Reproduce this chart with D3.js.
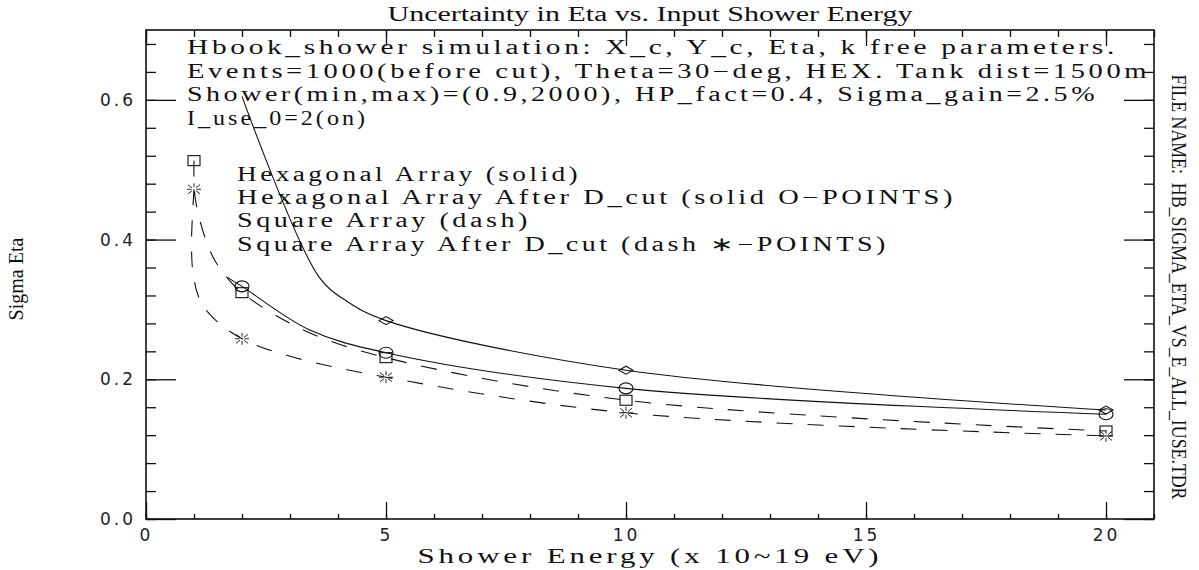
<!DOCTYPE html>
<html>
<head>
<meta charset="utf-8">
<script src="https://cdn.jsdelivr.net/npm/d3@7"></script>
<style>
  body { margin: 0; background: #fff; }
  svg { display: block; }
  .hdr { font-family: "Liberation Serif", serif; font-size: 20px; letter-spacing: 2.5px; fill: #111; }
  .tick text { font-family: "DejaVu Sans", sans-serif; font-size: 17px; fill: #222; }
</style>
</head>
<body>
<svg width="1199" height="570"></svg>
<script>
// marker values
const hexX = [5, 10, 20];
const hexY = [0.284, 0.213, 0.156];
const hexCutX = [2, 5, 10, 20];
const hexCutY = [0.333, 0.238, 0.187, 0.150];
const sqX = [1, 2, 5, 10, 20];
const sqY = [0.513, 0.324, 0.231, 0.170, 0.126];
const sqCutX = [1, 2, 5, 10, 20];
const sqCutY = [0.472, 0.258, 0.203, 0.152, 0.119];

// curve vertices
const hexLineX = [2, 3.6, 4.2, 5, 10, 20];
const hexLineY = [0.605, 0.347, 0.311, 0.284, 0.213, 0.156];
const hexCutLineX = [1.67, 2, 3.4, 5, 10, 20];
const hexCutLineY = [0.347, 0.333, 0.271, 0.238, 0.187, 0.150];
const sqLineX = [1, 1.03, 1.32, 1.56, 2, 3.3, 5, 10, 20];
const sqLineY = [0.513, 0.457, 0.386, 0.357, 0.324, 0.270, 0.231, 0.170, 0.126];
const sqCutLineX = [1, 0.95, 0.98, 1.12, 1.4, 2, 3.0, 5, 10, 20];
const sqCutLineY = [0.472, 0.40, 0.352, 0.314, 0.288, 0.258, 0.233, 0.203, 0.152, 0.119];

const xMinor = d3.range(0, 22, 1);
const xMajor = [0, 5, 10, 15, 20];
const yMinor = d3.range(0, 0.70001, 0.04);
const yMajor = [0, 0.2, 0.4, 0.6];

const headerLines = [
  "Hbook_shower simulation: X_c, Y_c, Eta, k free parameters.",
  "Events=1000(before cut), Theta=30\u2212deg, HEX. Tank dist=1500m",
  "Shower(min,max)=(0.9,2000), HP_fact=0.4, Sigma_gain=2.5%",
  "I_use_0=2(on)"
];
const legendLines = [
  "Hexagonal Array (solid)",
  "Hexagonal Array After D_cut (solid O\u2212POINTS)",
  "Square Array (dash)",
  "Square Array After D_cut (dash \u2217\u2212POINTS)"
];

const svg = d3.select("svg");
const margin = { top: 30, left: 146, bottom: 51, right: 45 };
const width = +svg.attr("width");
const height = +svg.attr("height");
const x0 = margin.left, x1 = width - margin.right;
const y0 = height - margin.bottom, y1 = margin.top;

const xScale = d3.scaleLinear().domain([0, 21]).range([x0, x1]);
const yScale = d3.scaleLinear().domain([0, 0.7]).range([y0, y1]);

// ticks on all four sides, pointing inwards
const addAxis = (axis, tx, ty, values, size, labels) => {
  const g = svg.append("g")
    .attr("transform", `translate(${tx},${ty})`)
    .call(axis.tickValues(values).tickSizeInner(-size).tickSizeOuter(0)
      .tickPadding(labels ? 10 : 0)
      .tickFormat(labels ? labels : () => ""));
  g.select(".domain").remove();
  g.selectAll(".tick line").attr("stroke", "#111").attr("stroke-width", 1.3);
  return g;
};
addAxis(d3.axisBottom(xScale), 0, y0, xMinor, 5);
addAxis(d3.axisBottom(xScale), 0, y0, xMajor, 17, d3.format("d"));
addAxis(d3.axisTop(xScale), 0, y1, xMinor, 7);
addAxis(d3.axisTop(xScale), 0, y1, xMajor, 16);
addAxis(d3.axisLeft(yScale), x0, 0, yMinor, 10);
addAxis(d3.axisLeft(yScale), x0, 0, yMajor, 30, d3.format(".1f"));
addAxis(d3.axisRight(yScale), x1, 0, yMinor, 10);
addAxis(d3.axisRight(yScale), x1, 0, yMajor, 30);

svg.selectAll(".tick text").attr("letter-spacing", 3);

svg.append("rect")
  .attr("x", x0).attr("y", y1)
  .attr("width", x1 - x0).attr("height", y0 - y1)
  .attr("fill", "none").attr("stroke", "#111").attr("stroke-width", 1.6);

// curves
const line = d3.line()
  .x((d) => xScale(d[0]))
  .y((d) => yScale(d[1]))
  .curve(d3.curveCatmullRom.alpha(0.5));
const curves = [
  { xs: hexLineX, ys: hexLineY, dash: null },
  { xs: hexCutLineX, ys: hexCutLineY, dash: null },
  { xs: sqLineX, ys: sqLineY, dash: "16,15" },
  { xs: sqCutLineX, ys: sqCutLineY, dash: "16,15" }
];
svg.append("g").selectAll("path")
  .data(curves)
  .enter()
  .append("path")
  .attr("d", (c) => line(d3.zip(c.xs, c.ys)))
  .attr("fill", "none")
  .attr("stroke", "#111")
  .attr("stroke-width", 1.1)
  .attr("stroke-dasharray", (c) => c.dash);

// markers
const mk = svg.append("g").attr("fill", "none").attr("stroke", "#111").attr("stroke-width", 1.1);
mk.selectAll(".dia").data(d3.zip(hexX, hexY)).enter().append("path")
  .attr("d", "M-7,0L0,-4L7,0L0,4Z")
  .attr("transform", (d) => `translate(${xScale(d[0])},${yScale(d[1])})`);
mk.selectAll(".circ").data(d3.zip(hexCutX, hexCutY)).enter().append("ellipse")
  .attr("cx", (d) => xScale(d[0])).attr("cy", (d) => yScale(d[1]))
  .attr("rx", 7).attr("ry", 5.5);
mk.selectAll(".sq").data(d3.zip(sqX, sqY)).enter().append("rect")
  .attr("x", (d) => xScale(d[0]) - 6).attr("y", (d) => yScale(d[1]) - 5)
  .attr("width", 12).attr("height", 10);
mk.selectAll(".star").data(d3.zip(sqCutX, sqCutY)).enter().append("path")
  .attr("stroke-width", 0.9)
  .attr("d", "M-7,0L-2.5,0M2.5,0L7,0M0,-6L0,-2M0,2L0,6M-6,-4.5L-2,-1.5M2,1.5L6,4.5M6,-4.5L2,-1.5M-2,1.5L-6,4.5")
  .attr("transform", (d) => `translate(${xScale(d[0])},${yScale(d[1])})`);

// text block
const headerWidths = [931, 963, 911, 181];
svg.append("g").selectAll("text")
  .data(headerLines)
  .enter()
  .append("text")
  .attr("class", "hdr")
  .attr("x", 187)
  .attr("y", (d, i) => 54 + i * 23.5)
  .attr("textLength", (d, i) => headerWidths[i])
  .attr("lengthAdjust", "spacingAndGlyphs")
  .text((d) => d);

const legendWidths = [344, 719, 294, 652];
svg.append("g").selectAll("text")
  .data(legendLines)
  .enter()
  .append("text")
  .attr("class", "hdr")
  .attr("x", 237)
  .attr("y", (d, i) => 181 + i * 23.2)
  .attr("textLength", (d, i) => legendWidths[i])
  .attr("lengthAdjust", "spacingAndGlyphs")
  .text((d) => d);

svg.append("text")
  .attr("x", (x0 + x1) / 2).attr("y", 21)
  .attr("text-anchor", "middle")
  .attr("font-family", "Liberation Serif, serif").attr("font-size", 20)
  .attr("textLength", 525).attr("lengthAdjust", "spacingAndGlyphs")
  .attr("fill", "#111")
  .text("Uncertainty in Eta vs. Input Shower Energy");

svg.append("text")
  .attr("class", "hdr")
  .attr("x", (x0 + x1) / 2).attr("y", 563)
  .attr("text-anchor", "middle")
  .attr("textLength", 465).attr("lengthAdjust", "spacingAndGlyphs")
  .text("Shower Energy (x 10~19 eV)");

svg.append("text")
  .attr("transform", "translate(23,279) rotate(-90)")
  .attr("text-anchor", "middle")
  .attr("font-family", "Liberation Serif, serif").attr("font-size", 20)
  .attr("fill", "#111")
  .text("Sigma Eta");

svg.append("text")
  .attr("transform", "translate(1172,287) rotate(90)")
  .attr("text-anchor", "middle")
  .attr("font-family", "Liberation Serif, serif").attr("font-size", 20)
  .attr("textLength", 425).attr("lengthAdjust", "spacingAndGlyphs")
  .attr("fill", "#111")
  .attr("xml:space", "preserve")
  .text("FILE NAME:  HB_SIGMA_ETA_VS_E_ALL_IUSE.TDR");
</script>
</body>
</html>
